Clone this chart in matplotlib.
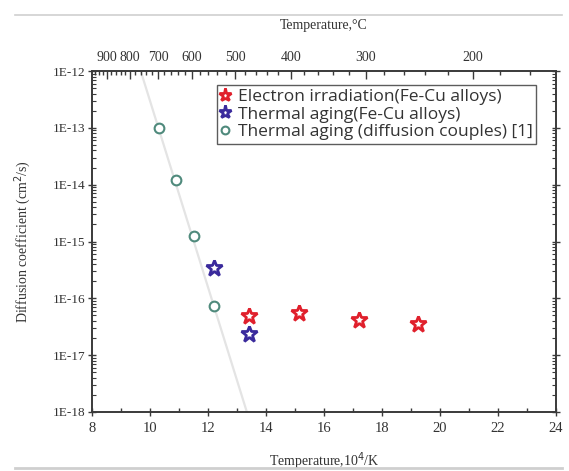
import matplotlib
matplotlib.use("Agg")
import matplotlib.pyplot as plt
import numpy as np
from matplotlib.lines import Line2D
from matplotlib.ticker import FixedLocator, NullFormatter, LogLocator, MultipleLocator

# ---- data ----
red_x = [13.4, 15.15, 17.2, 19.25]
red_y = [4.8e-17, 5.5e-17, 4.1e-17, 3.6e-17]
blue_x = [12.2, 13.4]
blue_y = [3.4e-16, 2.4e-17]
circ_x = [10.3, 10.9, 11.5, 12.2]
circ_y = [1.0e-13, 1.2e-14, 1.25e-15, 7.2e-17]
fit_x = [9.68, 13.34]
fit_y = [1e-12, 1e-18]
x_ticks = [8, 10, 12, 14, 16, 18, 20, 22, 24]
y_ticks = [1e-12, 1e-13, 1e-14, 1e-15, 1e-16, 1e-17, 1e-18]
y_tick_labels = ["1E-12", "1E-13", "1E-14", "1E-15", "1E-16", "1E-17", "1E-18"]
top_major_C = [900, 800, 700, 600, 500, 400, 300, 200]
top_minor_C = list(range(160, 1000, 20))
legend_labels = ["Electron irradiation(Fe-Cu alloys)",
                 "Thermal aging(Fe-Cu alloys)",
                 "Thermal aging (diffusion couples) [1]"]

serif = "Liberation Serif"
sans = "Open Sans"

fig = plt.figure(figsize=(5.69, 4.71), dpi=100)
ax = fig.add_axes([92/569, 59/471, (556-92)/569, (412-71)/471])

ax.set_yscale("log")
ax.set_xlim(8, 24)
ax.set_ylim(1e-18, 1e-12)

ax.plot(fit_x, fit_y, color="#e4e4e4", lw=1.6, zorder=1)

ax.plot(circ_x, circ_y, linestyle="none", marker="o", markersize=7,
        markerfacecolor="white", markeredgecolor="#4f8a7c", markeredgewidth=1.5,
        label=legend_labels[2], zorder=3)
ax.plot(red_x, red_y, linestyle="none", marker="*", markersize=12,
        markerfacecolor="white", markeredgecolor="#e0202c", markeredgewidth=2.0,
        label=legend_labels[0], zorder=4)
ax.plot(blue_x, blue_y, linestyle="none", marker="*", markersize=12,
        markerfacecolor="white", markeredgecolor="#3a2a9c", markeredgewidth=2.0,
        label=legend_labels[1], zorder=4)

spine_col = "#3a3a3a"
for s in ax.spines.values():
    s.set_color(spine_col)
    s.set_linewidth(1.2)

ax.set_xticks(x_ticks)
ax.set_xticklabels([str(v) for v in x_ticks], fontfamily=serif, fontsize=10.5, color="#333333")
ax.xaxis.set_minor_locator(MultipleLocator(1))
ax.set_yticks(y_ticks)
ax.set_yticklabels(y_tick_labels, fontfamily=serif, fontsize=9.5, color="#333333")
ax.yaxis.set_minor_locator(LogLocator(base=10, subs=np.arange(2, 10)))
ax.yaxis.set_minor_formatter(NullFormatter())

ax.tick_params(axis="x", which="major", direction="inout", length=6, width=1, color=spine_col, pad=4)
ax.tick_params(axis="x", which="minor", direction="in", length=3, width=1, color=spine_col)
ax.tick_params(axis="y", which="major", direction="inout", length=6, width=1, color=spine_col, pad=2)
ax.tick_params(axis="y", which="minor", direction="in", length=3, width=0.8, color=spine_col)
ax.tick_params(right=True, which="both")

ax.set_xlabel("Temperature,10$^4$/K", fontfamily=serif, fontsize=10, color="#333333", labelpad=11)
ax.set_ylabel("Diffusion coefficient (cm$^2$/s)", fontfamily=serif, fontsize=10, color="#333333", labelpad=14)

# top axis (temperature in C)
ax2 = ax.twiny()
ax2.set_xlim(ax.get_xlim())
ax2.set_xticks([1e4 / (t + 273.15) for t in top_major_C])
ax2.set_xticklabels([str(t) for t in top_major_C], fontfamily=serif, fontsize=10, color="#333333")
ax2.xaxis.set_minor_locator(FixedLocator([1e4 / (t + 273.15) for t in top_minor_C
                                          if 8 <= 1e4 / (t + 273.15) <= 24]))
ax2.tick_params(axis="x", which="major", direction="in", length=6, width=1, color=spine_col, pad=5)
ax2.tick_params(axis="x", which="minor", direction="in", length=3, width=1, color=spine_col)
ax2.set_xlabel("Temperature,\u00b0C", fontfamily=serif, fontsize=10, color="#333333", labelpad=16)
for s in ax2.spines.values():
    s.set_color(spine_col)
    s.set_linewidth(1.2)

leg = ax.legend(handles=[ax.lines[2], ax.lines[3], ax.lines[1]],
                labels=legend_labels, loc="upper left",
                bbox_to_anchor=((217 - 92) / (556 - 92), 1 - (85 - 71) / (412 - 71)),
                prop={"family": sans, "size": 12.5}, frameon=True, fancybox=False,
                handlelength=0.5, handletextpad=0.5, borderpad=0.2, labelspacing=0.1,
                borderaxespad=0, markerscale=0.8)
leg.get_frame().set_edgecolor("#333333")
leg.get_frame().set_linewidth(1.0)
for t in leg.get_texts():
    t.set_color("#333333")

# faint page border lines
fig.add_artist(Line2D([15/569, 562/569], [1 - 15/471, 1 - 15/471], color="#cfcfcf", lw=1.2))
fig.add_artist(Line2D([15/569, 562/569], [1 - 468/471, 1 - 468/471], color="#cfcfcf", lw=2))

fig.savefig("out.png", dpi=100)
